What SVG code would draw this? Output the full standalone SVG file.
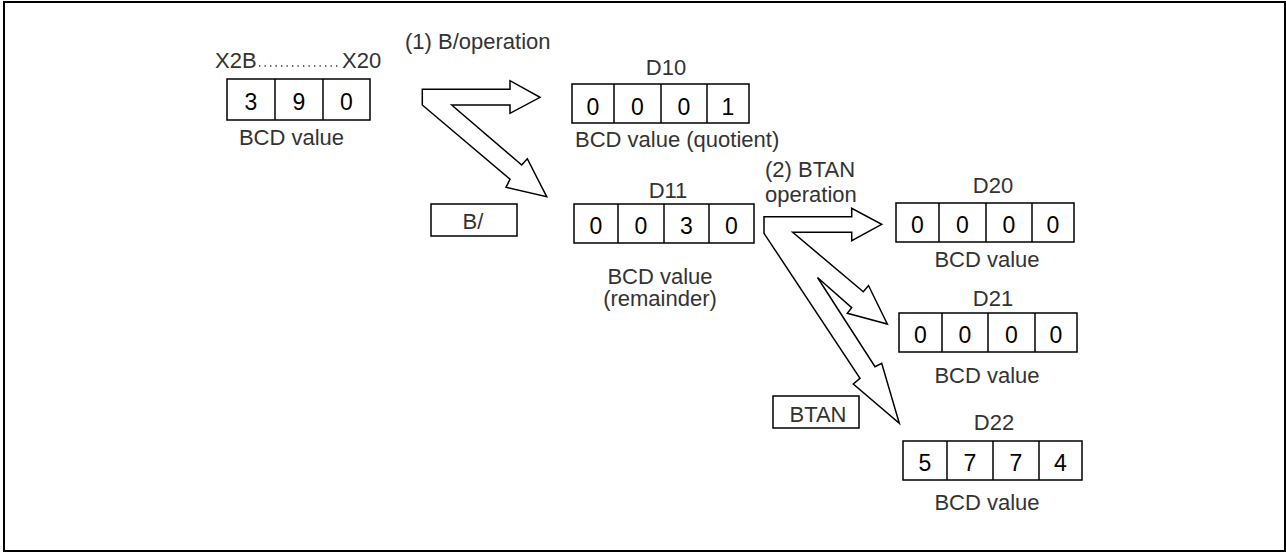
<svg xmlns="http://www.w3.org/2000/svg" width="1286" height="552" viewBox="0 0 1286 552">
<style>
.frame{fill:#fff;stroke:#000;stroke-width:2}
.cell{fill:#fff;stroke:#000;stroke-width:1.5}
.div{stroke:#000;stroke-width:1.5}
.lbl{font-family:"Liberation Sans",Arial,sans-serif;font-size:22px;fill:#333}
.dig{font-family:"Liberation Sans",Arial,sans-serif;font-size:23px;fill:#000;text-anchor:middle}
.mid{text-anchor:middle}
.arrow{fill:#fff;stroke:#000;stroke-width:1.5;stroke-linejoin:miter}
</style>
<rect class="frame" x="4" y="2" width="1281" height="549"/>

<g id="connectors">
<path class="arrow" d="M422.3,89.3 L510,89.3 L510,80.7 L540,97.3 L510,113.3 L510,105 L451.7,105 L521.7,165 L527.3,158.7 L546.7,196.7 L506,187.3 L510,179.3 L422.3,105 Z"/>
<path class="arrow" d="M764,216.7 L851.7,216.7 L851.7,208.3 L881.7,224.3 L851.7,240.7 L851.7,232.3 L792.7,232.3 L863.3,291.7 L868.5,285.5 L887.3,324 L847.3,313.3 L851.7,307.7 L817.5,277.5 L875,366.7 L881.7,363.3 L899.3,423.3 L853.3,384 L860,378.3 L764,233.3 Z"/>
</g>

<g id="label-op1">
<text class="lbl" x="405" y="49">(1) B/operation</text>
</g>
<g id="label-op2">
<text class="lbl" x="765" y="177">(2) BTAN</text>
<text class="lbl" x="765" y="202">operation</text>
</g>

<g id="node-X">
<text class="lbl" x="215" y="68">X2B</text>
<line x1="259" y1="66" x2="340" y2="66" stroke="#333" stroke-width="1.5" stroke-dasharray="1.3 4.2"/>
<text class="lbl" x="342" y="68">X20</text>
<rect class="cell" x="227" y="79" width="143" height="41"/>
<line class="div" x1="275" y1="79" x2="275" y2="120"/>
<line class="div" x1="323" y1="79" x2="323" y2="120"/>
<text class="dig" x="251" y="109.5">3</text>
<text class="dig" x="299" y="109.5">9</text>
<text class="dig" x="346.5" y="109.5">0</text>
<text class="lbl mid" x="291.5" y="145">BCD value</text>
</g>

<g id="node-D10">
<text class="lbl mid" x="666" y="75">D10</text>
<rect class="cell" x="572" y="84" width="177" height="39"/>
<line class="div" x1="614" y1="84" x2="614" y2="123"/>
<line class="div" x1="661" y1="84" x2="661" y2="123"/>
<line class="div" x1="707" y1="84" x2="707" y2="123"/>
<text class="dig" x="593" y="114.5">0</text>
<text class="dig" x="637.5" y="114.5">0</text>
<text class="dig" x="684" y="114.5">0</text>
<text class="dig" x="728" y="114.5">1</text>
<text class="lbl" x="575" y="147">BCD value (quotient)</text>
</g>

<g id="node-B">
<rect class="cell" x="431" y="204" width="86" height="32"/>
<text class="lbl mid" x="473" y="229">B/</text>
</g>

<g id="node-D11">
<text class="lbl mid" x="668" y="198">D11</text>
<rect class="cell" x="574" y="204" width="180" height="39"/>
<line class="div" x1="618" y1="204" x2="618" y2="243"/>
<line class="div" x1="664" y1="204" x2="664" y2="243"/>
<line class="div" x1="709" y1="204" x2="709" y2="243"/>
<text class="dig" x="596" y="234">0</text>
<text class="dig" x="641" y="234">0</text>
<text class="dig" x="686.5" y="234">3</text>
<text class="dig" x="731.5" y="234">0</text>
<text class="lbl mid" x="660" y="283.5">BCD value</text>
<text class="lbl mid" x="660" y="306">(remainder)</text>
</g>

<g id="node-D20">
<text class="lbl mid" x="993" y="193">D20</text>
<rect class="cell" x="896" y="203" width="178" height="39"/>
<line class="div" x1="939" y1="203" x2="939" y2="242"/>
<line class="div" x1="986" y1="203" x2="986" y2="242"/>
<line class="div" x1="1032" y1="203" x2="1032" y2="242"/>
<text class="dig" x="917.5" y="233">0</text>
<text class="dig" x="962.5" y="233">0</text>
<text class="dig" x="1009" y="233">0</text>
<text class="dig" x="1053" y="233">0</text>
<text class="lbl mid" x="987" y="266.5">BCD value</text>
</g>

<g id="node-D21">
<text class="lbl mid" x="993" y="306">D21</text>
<rect class="cell" x="899" y="313" width="178" height="39"/>
<line class="div" x1="942" y1="313" x2="942" y2="352"/>
<line class="div" x1="988" y1="313" x2="988" y2="352"/>
<line class="div" x1="1035" y1="313" x2="1035" y2="352"/>
<text class="dig" x="920.5" y="343">0</text>
<text class="dig" x="965" y="343">0</text>
<text class="dig" x="1011.5" y="343">0</text>
<text class="dig" x="1056" y="343">0</text>
<text class="lbl mid" x="987" y="383">BCD value</text>
</g>

<g id="node-BTAN">
<rect class="cell" x="773" y="396" width="86" height="32"/>
<text class="lbl mid" x="818" y="421.5">BTAN</text>
</g>

<g id="node-D22">
<text class="lbl mid" x="994" y="430">D22</text>
<rect class="cell" x="903" y="441" width="179" height="39"/>
<line class="div" x1="947" y1="441" x2="947" y2="480"/>
<line class="div" x1="993" y1="441" x2="993" y2="480"/>
<line class="div" x1="1039" y1="441" x2="1039" y2="480"/>
<text class="dig" x="925" y="471">5</text>
<text class="dig" x="970" y="471">7</text>
<text class="dig" x="1016" y="471">7</text>
<text class="dig" x="1060.5" y="471">4</text>
<text class="lbl mid" x="987" y="510">BCD value</text>
</g>
</svg>
